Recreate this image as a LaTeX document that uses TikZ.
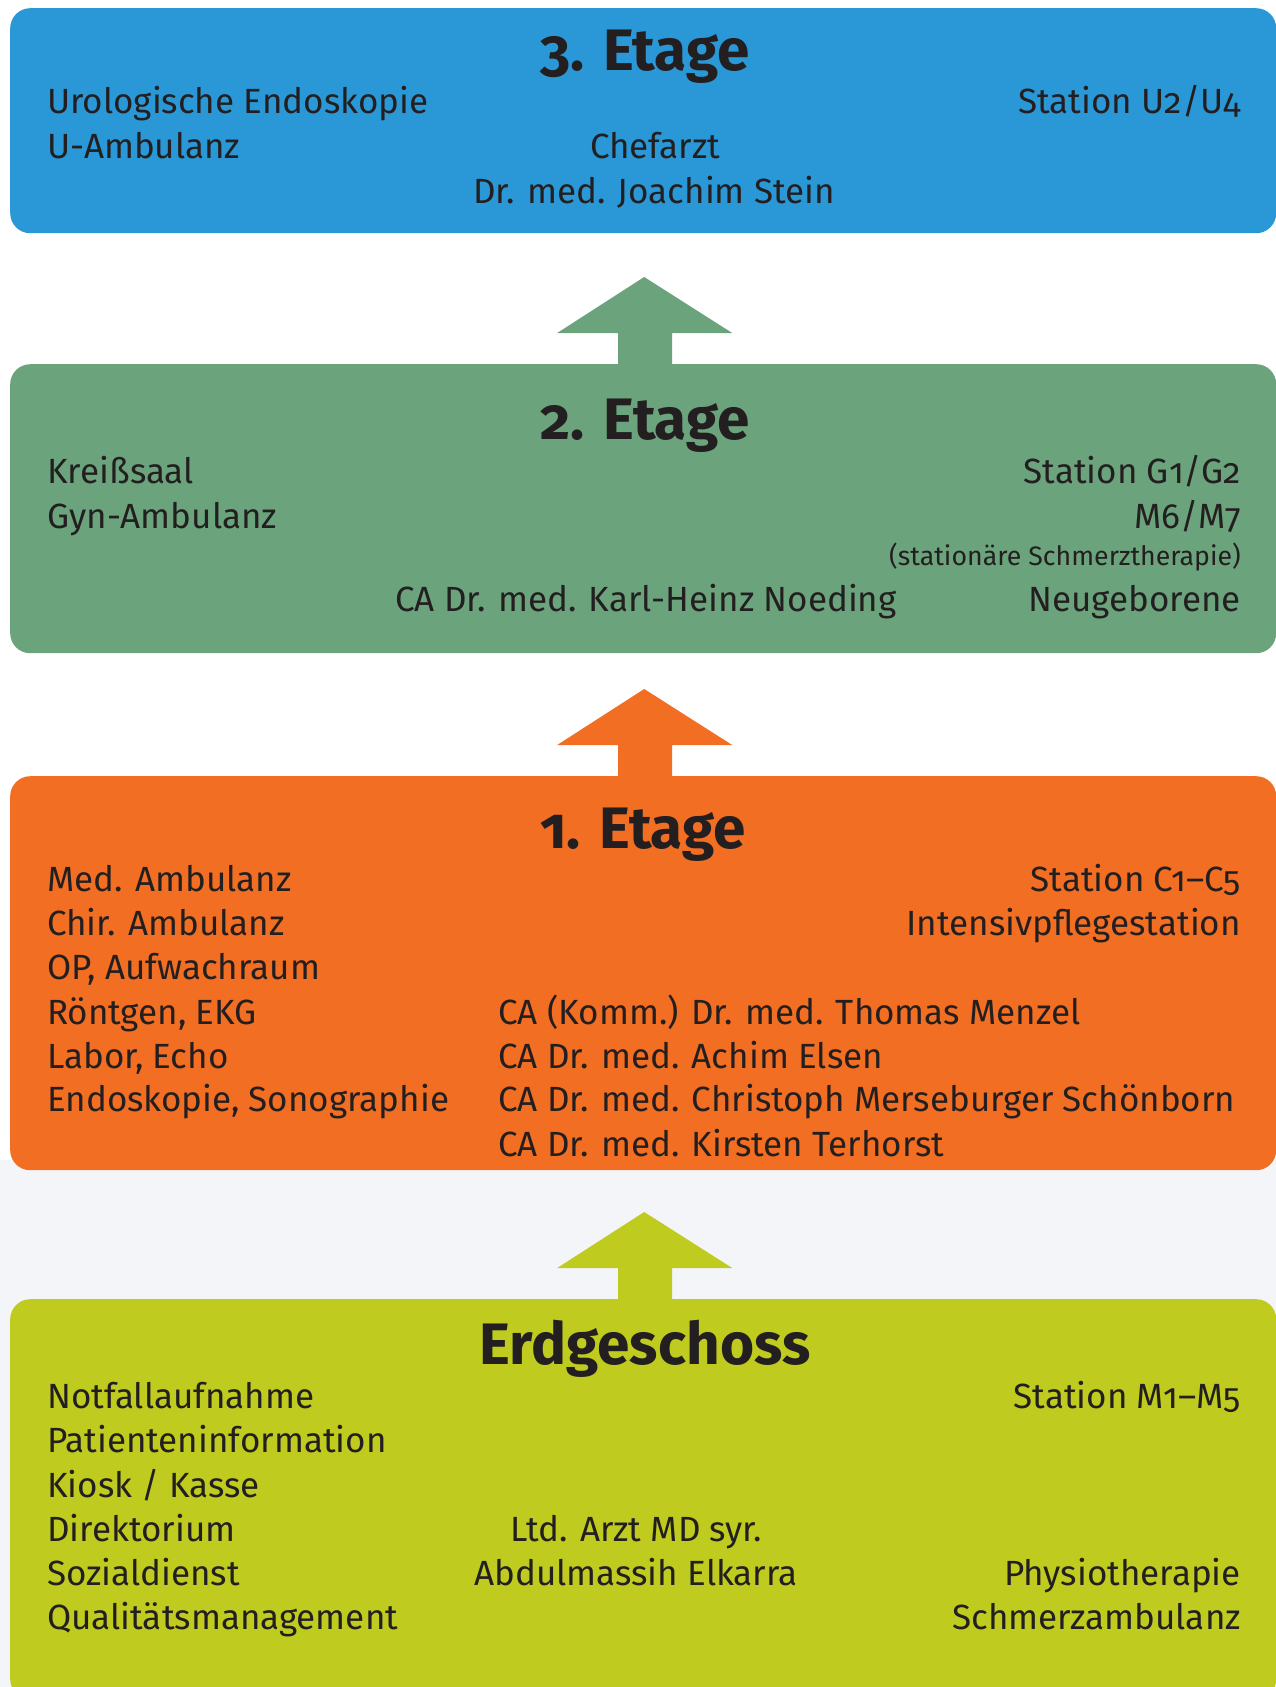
\documentclass[tikz,border=0pt]{standalone}
\usepackage{fontspec}
\setmainfont{Fira Sans}[Numbers=OldStyle]
\usetikzlibrary{calc}
\definecolor{cblue}{RGB}{42,152,214}
\definecolor{cgreen}{RGB}{107,164,124}
\definecolor{corange}{RGB}{242,110,34}
\definecolor{clime}{RGB}{191,203,31}
\definecolor{ctext}{RGB}{35,31,32}
\definecolor{cbg}{RGB}{243,245,249}
\tikzset{
  floorbox/.style={rectangle, rounded corners=20pt, inner sep=0pt, anchor=north west, minimum width=1266pt},
  bodyfont/.style={font=\fontsize{35}{42}\selectfont},
  tl/.style={bodyfont, text=ctext, inner sep=0pt, anchor=base west},
  tr/.style={bodyfont, text=ctext, inner sep=0pt, anchor=base east},
  tc/.style={bodyfont, text=ctext, inner sep=0pt, anchor=base},
  title/.style={font=\fontsize{58.5}{66}\selectfont\bfseries, text=ctext, inner sep=0pt, anchor=base},
  smalltxt/.style={font=\fontsize{26.7}{32}\selectfont, text=ctext, inner sep=0pt, anchor=base east},
}
\newcommand{\uparrowshape}[2]{%
  \fill[#1] ($(#2.north)+(1,-87)$) -- ($(#2.north)+(89,-31)$) -- ($(#2.north)+(29,-31)$)
    -- ($(#2.north)+(29,1)$) -- ($(#2.north)+(-25,1)$) -- ($(#2.north)+(-25,-31)$)
    -- ($(#2.north)+(-86,-31)$) -- cycle;}
\begin{document}
\begin{tikzpicture}[x=1pt,y=-1pt]
\useasboundingbox (0,0) rectangle (1276,1687);
\fill[white] (0,0) rectangle (1276,1687);
\fill[cbg] (0,1160) rectangle (1276,1687);
% boxes
\node[floorbox, fill=cblue, minimum height=225pt] (b3) at (10,8) {};
\node[floorbox, fill=cgreen, minimum height=289pt] (b2) at (10,364) {};
\node[floorbox, fill=corange, minimum height=394pt] (b1) at (10,776) {};
\node[floorbox, fill=clime, minimum height=400pt] (b0) at (10,1299) {};
% arrows
\uparrowshape{cgreen}{b2}
\uparrowshape{corange}{b1}
\uparrowshape{clime}{b0}
% 3. Etage
\node[title] (t3) at (645,70) {3. Etage};
\node[tl] (a1) at (47,113) {Urologische Endoskopie};
\node[tl] (a2) at (47,158) {U-Ambulanz};
\node[tr] (a3) at (1241,113) {Station U2/U4};
\node[tc] (a4) at (655,158) {Chefarzt};
\node[tc] (a5) at (654,203) {Dr. med. Joachim Stein};
% 2. Etage
\node[title] (t2) at (645,439) {2. Etage};
\node[tl] (b21) at (47,483) {Kreißsaal};
\node[tl] (b22) at (47,528) {Gyn-Ambulanz};
\node[tr] (b23) at (1241,483) {Station G1/G2};
\node[tr] (b24) at (1241,528) {M6/M7};
\node[smalltxt] (b25) at (1241,565) {(stationäre Schmerztherapie)};
\node[tc] (b26) at (646,611) {CA Dr. med. Karl-Heinz Noeding};
\node[tr] (b27) at (1241,611) {Neugeborene};
% 1. Etage
\node[title] (t1) at (643,848) {1. Etage};
\node[tl] (c1) at (47,891) {Med. Ambulanz};
\node[tl] (c2) at (47,935) {Chir. Ambulanz};
\node[tl] (c3) at (47,979) {OP, Aufwachraum};
\node[tl] (c4) at (47,1024) {Röntgen, EKG};
\node[tl] (c5) at (47,1068) {Labor, Echo};
\node[tl] (c6) at (47,1111) {Endoskopie, Sonographie};
\node[tr] (c7) at (1241,891) {Station C1–C5};
\node[tr] (c8) at (1241,935) {Intensivpflegestation};
\node[tl] (c9) at (498,1024) {CA (Komm.) Dr. med. Thomas Menzel};
\node[tl] (c10) at (498,1068) {CA Dr. med. Achim Elsen};
\node[tl] (c11) at (498,1111) {CA Dr. med. Christoph Merseburger Schönborn};
\node[tl] (c12) at (498,1156) {CA Dr. med. Kirsten Terhorst};
% Erdgeschoss
\node[title] (t0) at (645,1364) {Erdgeschoss};
\node[tl] (d1) at (47,1408) {Notfallaufnahme};
\node[tl] (d2) at (47,1452) {Patienteninformation};
\node[tl] (d3) at (47,1497) {Kiosk / Kasse};
\node[tl] (d4) at (47,1541) {Direktorium};
\node[tl] (d5) at (47,1585) {Sozialdienst};
\node[tl] (d6) at (47,1629) {Qualitätsmanagement};
\node[tr] (d7) at (1241,1408) {Station M1–M5};
\node[tc] (d8) at (636,1541) {Ltd. Arzt MD syr.};
\node[tc] (d9) at (636,1585) {Abdulmassih Elkarra};
\node[tr] (d10) at (1241,1585) {Physiotherapie};
\node[tr] (d11) at (1241,1629) {Schmerzambulanz};
\end{tikzpicture}
\end{document}
